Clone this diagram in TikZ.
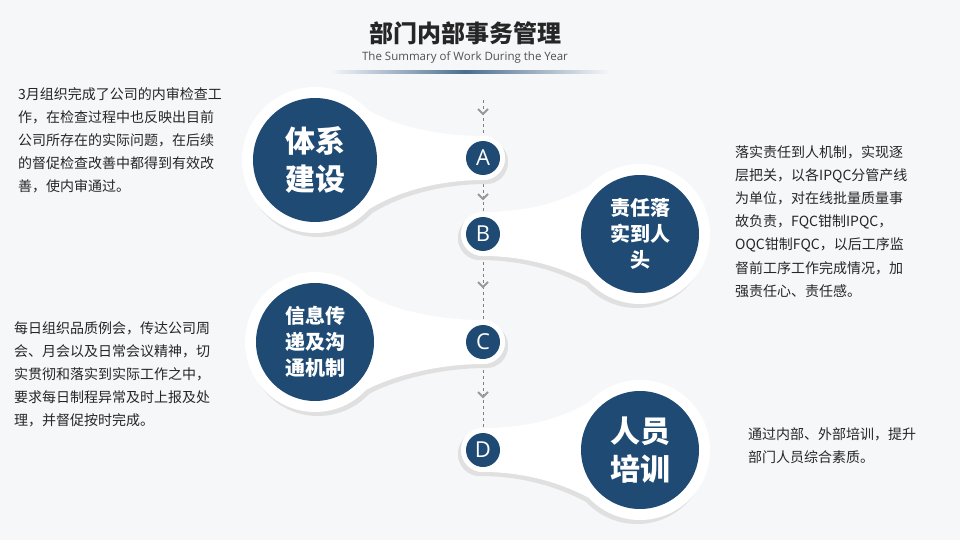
\documentclass[tikz,border=0pt]{standalone}
\usepackage{fontspec}
\setmainfont{Noto Sans CJK SC}
\newfontfamily\latf{Open Sans}
\definecolor{bg}{HTML}{F6F7F9}
\definecolor{navy}{HTML}{1E4A73}
\definecolor{txt}{HTML}{262626}
\begin{document}
\begin{tikzpicture}[x=1pt,y=-1pt,
  body/.style={font=\fontsize{14}{23.2}\selectfont,text=txt,anchor=north west,align=left,inner sep=0},
  big/.style={font=\bfseries,text=white,align=center},
  let/.style={circle,fill=navy,minimum size=34,inner sep=0,text=white,font=\latf\fontsize{22}{22}\selectfont},
  chev/.style={draw=gray!80,line width=2pt}]
\fill[bg] (0,0) rectangle (960,540);
\useasboundingbox (0,0) rectangle (960,540);
\newcommand\blob[8]{%
 \begin{scope}[shift={(#1,#2)},xscale=#3]
  \foreach \o/\c in {{(3,4)}/black!12,{(0,0)}/white}{
  \fill[\c,shift={\o}] ({#6*0.7},{-#6*0.7}) .. controls ({#6+10},{#5-#7-8}) and ({#4-40},{#5-#7}) .. ({#4},{#5-#7})
    arc[start angle=-90,end angle=90,radius=#7] 
    .. controls ({#4-40},{#5+#7}) and ({#6+10},{#5+#7+10}) .. ({#6*0.7},{#6*0.7}) -- cycle;
  \fill[\c,shift={\o}] (0,0) circle (#6);
  \fill[\c,shift={\o}] ({#4},{#5}) circle (#7);}
  \fill[navy] (0,0) circle ({#6-11});
 \end{scope}}
% title
\node[font=\bfseries\fontsize{24}{24}\selectfont,text=txt] (title) at (465,33) {部门内部事务管理};
\node[font=\latf\fontsize{11.5}{11.5}\selectfont,text=txt!80] (sub) at (465,57) {The Summary of Work During the Year};
\shade[left color=bg,right color=navy!80] (330,71) rectangle (465,73.5);
\shade[left color=navy!80,right color=bg] (465,71) rectangle (610,73.5);
% axis
\coordinate (t) at (483,100); \coordinate (e) at (483,470);
\draw[gray,dashed] (t) -- (e);
\blob{315}{160}{1}{168}{-2}{73}{22}{}
\blob{640}{234}{-1}{157}{0}{70}{22}{}
\blob{315}{342}{1}{168}{0}{70}{22}{}
\blob{640}{450}{-1}{157}{0}{70}{22}{}
\foreach \y in {112,197,285,395}{\draw[chev] (478,\y-3) -- (483,\y+2) -- (488,\y-3);}
\node[let] (A) at (483,158) {A};
\node[let] (B) at (483,234) {B};
\node[let] (C) at (483,342) {C};
\node[let] (D) at (483,450) {D};
\node[big,font=\bfseries\fontsize{30}{38}\selectfont] (n1) at (315,160) {体系\\建设};
\node[big,font=\bfseries\fontsize{20}{26}\selectfont] (n2) at (640,234) {责任落\\实到人\\头};
\node[big,font=\bfseries\fontsize{20}{26}\selectfont] (n3) at (315,342) {信息传\\递及沟\\通机制};
\node[big,font=\bfseries\fontsize{30}{38}\selectfont] (n4) at (640,450) {人员\\培训};
\node[body] (t1) at (18,87) {3月组织完成了公司的内审检查工\\作，在检查过程中也反映出目前\\公司所存在的实际问题，在后续\\的督促检查改善中都得到有效改\\善，使内审通过。};
\node[body] (t2) at (735,145) {落实责任到人机制，实现逐\\层把关，以各IPQC分管产线\\为单位，对在线批量质量事\\故负责，FQC钳制IPQC，\\OQC钳制FQC，以后工序监\\督前工序工作完成情况，加\\强责任心、责任感。};
\node[body] (t3) at (14,321) {每日组织品质例会，传达公司周\\会、月会以及日常会议精神，切\\实贯彻和落实到实际工作之中，\\要求每日制程异常及时上报及处\\理，并督促按时完成。};
\node[body] (t4) at (748,427) {通过内部、外部培训，提升\\部门人员综合素质。};
\end{tikzpicture}
\end{document}
